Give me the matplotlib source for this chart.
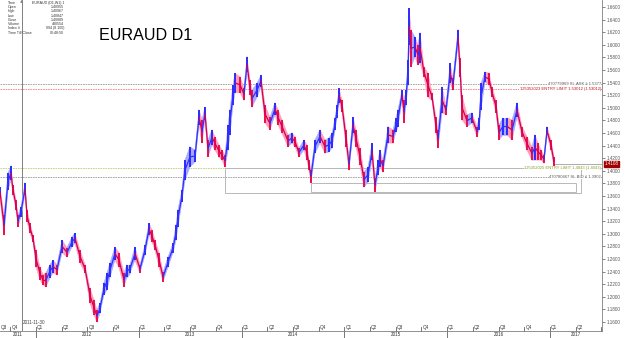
import matplotlib
matplotlib.use('Agg')
import matplotlib.pyplot as plt
import matplotlib.transforms as mtrans
from matplotlib.patches import Rectangle
from matplotlib.collections import PolyCollection, LineCollection
import numpy as np

plt.rcParams['font.family'] = ['Liberation Sans', 'DejaVu Sans']

# ---- price path (decimal year, high, low) ----
t = [2011.650, 2011.689, 2011.728, 2011.757, 2011.776, 2011.805, 2011.825, 2011.854, 2011.893, 2011.913,
     2011.942, 2011.971, 2012.000, 2012.039, 2012.068, 2012.097, 2012.136, 2012.165, 2012.204, 2012.253,
     2012.302, 2012.350, 2012.379, 2012.428, 2012.477, 2012.525, 2012.564, 2012.593, 2012.623, 2012.661,
     2012.691, 2012.720, 2012.768, 2012.807, 2012.856, 2012.885, 2012.914, 2012.963, 2013.012, 2013.060,
     2013.099, 2013.128, 2013.158, 2013.197, 2013.236, 2013.284, 2013.333, 2013.362, 2013.381, 2013.420,
     2013.449, 2013.498, 2013.547, 2013.586, 2013.615, 2013.644, 2013.673, 2013.712, 2013.741, 2013.780,
     2013.809, 2013.839, 2013.868, 2013.887, 2013.916, 2013.936, 2013.985, 2014.023, 2014.053, 2014.082,
     2014.101, 2014.150, 2014.189, 2014.228, 2014.276, 2014.325, 2014.354, 2014.393, 2014.451, 2014.490,
     2014.520, 2014.558, 2014.607, 2014.636, 2014.656, 2014.675, 2014.714, 2014.763, 2014.811, 2014.850,
     2014.880, 2014.909, 2014.928, 2014.948, 2014.977, 2015.016, 2015.045, 2015.084, 2015.113, 2015.152,
     2015.191, 2015.230, 2015.269, 2015.298, 2015.327, 2015.346, 2015.376, 2015.424, 2015.473, 2015.502,
     2015.522, 2015.560, 2015.580, 2015.599, 2015.619, 2015.629, 2015.648, 2015.687, 2015.716, 2015.736,
     2015.774, 2015.813, 2015.852, 2015.891, 2015.911, 2015.950, 2015.989, 2016.028, 2016.057, 2016.105,
     2016.125, 2016.144, 2016.193, 2016.241, 2016.290, 2016.310, 2016.329, 2016.368, 2016.407, 2016.436,
     2016.475, 2016.504, 2016.543, 2016.582, 2016.631, 2016.679, 2016.728, 2016.776, 2016.825, 2016.854,
     2016.883, 2016.913, 2016.942, 2016.971, 2017.010, 2017.039]
high = [1.374, 1.330, 1.397, 1.408, 1.378, 1.354, 1.330, 1.343, 1.381, 1.338,
        1.317, 1.298, 1.274, 1.247, 1.235, 1.238, 1.251, 1.258, 1.251, 1.290,
        1.278, 1.295, 1.301, 1.274, 1.251, 1.214, 1.195, 1.179, 1.190, 1.222,
        1.238, 1.254, 1.279, 1.270, 1.238, 1.251, 1.251, 1.279, 1.251, 1.282,
        1.317, 1.306, 1.290, 1.270, 1.239, 1.263, 1.285, 1.314, 1.338, 1.370,
        1.417, 1.438, 1.433, 1.497, 1.481, 1.501, 1.449, 1.465, 1.454, 1.441,
        1.433, 1.425, 1.473, 1.497, 1.536, 1.555, 1.549, 1.531, 1.581, 1.544,
        1.528, 1.539, 1.552, 1.504, 1.485, 1.508, 1.497, 1.481, 1.457, 1.460,
        1.454, 1.436, 1.449, 1.441, 1.417, 1.401, 1.449, 1.465, 1.449, 1.452,
        1.460, 1.484, 1.504, 1.531, 1.512, 1.465, 1.420, 1.485, 1.465, 1.436,
        1.398, 1.406, 1.444, 1.389, 1.417, 1.433, 1.417, 1.470, 1.465, 1.484,
        1.497, 1.528, 1.512, 1.528, 1.576, 1.658, 1.624, 1.612, 1.600, 1.619,
        1.565, 1.555, 1.524, 1.485, 1.465, 1.533, 1.504, 1.571, 1.547, 1.624,
        1.579, 1.520, 1.489, 1.492, 1.470, 1.484, 1.539, 1.557, 1.555, 1.533,
        1.512, 1.473, 1.484, 1.484, 1.481, 1.508, 1.470, 1.454, 1.438, 1.457,
        1.444, 1.433, 1.425, 1.470, 1.449, 1.422]
low = [1.358, 1.298, 1.370, 1.385, 1.362, 1.338, 1.311, 1.327, 1.362, 1.319,
       1.301, 1.287, 1.247, 1.227, 1.219, 1.216, 1.230, 1.238, 1.235, 1.270,
       1.263, 1.279, 1.285, 1.254, 1.238, 1.190, 1.171, 1.160, 1.174, 1.203,
       1.211, 1.231, 1.258, 1.247, 1.216, 1.231, 1.238, 1.258, 1.238, 1.266,
       1.298, 1.287, 1.274, 1.247, 1.224, 1.247, 1.270, 1.290, 1.311, 1.351,
       1.385, 1.406, 1.414, 1.473, 1.444, 1.481, 1.422, 1.441, 1.433, 1.422,
       1.417, 1.406, 1.433, 1.457, 1.504, 1.524, 1.524, 1.512, 1.557, 1.520,
       1.501, 1.517, 1.533, 1.476, 1.465, 1.489, 1.473, 1.460, 1.438, 1.444,
       1.438, 1.422, 1.433, 1.417, 1.401, 1.381, 1.428, 1.444, 1.428, 1.430,
       1.436, 1.465, 1.484, 1.508, 1.493, 1.438, 1.401, 1.460, 1.438, 1.409,
       1.374, 1.382, 1.417, 1.366, 1.393, 1.406, 1.398, 1.444, 1.444, 1.462,
       1.470, 1.512, 1.476, 1.504, 1.536, 1.600, 1.565, 1.581, 1.568, 1.571,
       1.549, 1.517, 1.512, 1.460, 1.436, 1.492, 1.489, 1.539, 1.528, 1.600,
       1.549, 1.481, 1.470, 1.476, 1.454, 1.465, 1.497, 1.541, 1.536, 1.517,
       1.492, 1.449, 1.457, 1.457, 1.449, 1.485, 1.454, 1.433, 1.417, 1.417,
       1.417, 1.417, 1.412, 1.457, 1.433, 1.406]

# ---- axis / annotation values ----
price_ticks = [1.16, 1.18, 1.20, 1.22, 1.24, 1.26, 1.28, 1.30, 1.32, 1.34, 1.36, 1.38, 1.40,
               1.42, 1.44, 1.46, 1.48, 1.50, 1.52, 1.54, 1.56, 1.58, 1.60, 1.62, 1.64, 1.66]
quarter_pos = [2011.75, 2012.0, 2012.25, 2012.5, 2012.75, 2013.0, 2013.25, 2013.5, 2013.75,
               2014.0, 2014.25, 2014.5, 2014.75, 2015.0, 2015.25, 2015.5, 2015.75,
               2016.0, 2016.25, 2016.5, 2016.75, 2017.0, 2017.25]
quarter_lab = ['Q4', 'Q1', 'Q2', 'Q3', 'Q4', 'Q1', 'Q2', 'Q3', 'Q4',
               'Q1', 'Q2', 'Q3', 'Q4', 'Q1', 'Q2', 'Q3', 'Q4',
               'Q1', 'Q2', 'Q3', 'Q4', 'Q1', 'Q2']
year_lab = ['2011', '2012', '2013', '2014', '2015', '2016', '2017']
year_start = [2011.0, 2012.0, 2013.0, 2014.0, 2015.0, 2016.0, 2017.0]

order_levels = [1.5377, 1.5301, 1.4043, 1.3902]
order_texts = ['470779969 SL.ASK \u2265 1.5377', '125352023 ENTRY LIMIT 1.53012 (1.53012)',
               '125352025 ENTRY LIMIT 1.4043 (1.4043)', '470780467 SL.BID \u2264 1.3902']
order_colors = ['#9a9a9a', '#f08080', '#b8d070', '#9a9a9a']
order_tcolors = ['#555555', '#c01010', '#80a020', '#555555']

last_price = 1.4108
cursor_t = 2011.859
cursor_label = '2011-11-30'

info_names = ['Time', 'Open', 'High', 'Low', 'Close', 'Volume', 'Index #', 'Time Till Close']
info_vals = ['EURAUD (D1,W1) 1', '1.40955', '1.40967', '1.40847', '1.40889', '480554', '994 (8 100)', '00:48:50']

# ---- figure ----
W, H = 625, 338
AXH = 331
fig = plt.figure(figsize=(W / 100, H / 100), dpi=100)
ax = fig.add_axes([0, (H - AXH) / H, 602 / W, AXH / H])
xmin, xmax = 2011.6498, 2017.506
ymax = 1.6711
ymin = ymax - AXH / 630.0
ax.set_xlim(xmin, xmax)
ax.set_ylim(ymin, ymax)

for s in ['top', 'left']:
    ax.spines[s].set_visible(False)
ax.spines['right'].set_color('#808080')
ax.spines['right'].set_linewidth(0.6)
ax.spines['bottom'].set_color('#808080')
ax.spines['bottom'].set_linewidth(0.6)

ax.set_xticks([])
ax.yaxis.tick_right()
ax.set_yticks(price_ticks)
ax.set_yticklabels(['%.4f' % v for v in price_ticks], fontsize=3.3, color='#333333')
ax.tick_params(axis='y', length=2, width=0.5, pad=1.5, colors='#555555')

# order lines
for lv, txt, c, tc in zip(order_levels, order_texts, order_colors, order_tcolors):
    ax.axhline(lv, color=c, lw=0.6, ls=(0, (2, 1)), zorder=1)
    ax.text(xmax - 0.01, lv, txt, fontsize=3.0, color=tc, ha='right', va='center', zorder=5,
            bbox=dict(facecolor='white', edgecolor='none', pad=0.2))

# rectangles
ax.add_patch(Rectangle((2013.839, 1.3647), 2017.302 - 2013.839, 1.4043 - 1.3647,
                       fill=False, edgecolor='#b8b8b8', lw=0.7, zorder=1))
ax.add_patch(Rectangle((2014.675, 1.3663), 2017.253 - 2014.675, 1.3806 - 1.3663,
                       fill=False, edgecolor='#b8b8b8', lw=0.7, zorder=1))

# price band
tt = np.array(t); hh = np.array(high); ll = np.array(low)
mid = (hh + ll) / 2
polys, pcols, segs, scols = [], [], [], []
for i in range(1, len(tt)):
    up = mid[i] >= mid[i - 1]
    polys.append([(tt[i - 1], ll[i - 1]), (tt[i - 1], hh[i - 1]), (tt[i], hh[i]), (tt[i], ll[i])])
    pcols.append('#a8a8ff' if up else '#ff9cb8')
for i in range(len(tt)):
    up = i == 0 or mid[i] >= mid[i - 1]
    segs.append([(tt[i], ll[i]), (tt[i], hh[i])])
    scols.append('#2020ff' if up else '#ee0040')
ax.add_collection(PolyCollection(polys, facecolors=pcols, edgecolors=pcols, linewidths=0.4, zorder=2))
ax.add_collection(LineCollection(segs, colors=scols, linewidths=1.3, zorder=3))
mseg = [[(tt[i - 1], mid[i - 1]), (tt[i], mid[i])] for i in range(1, len(tt))]
mcol = ['#3030ff' if mid[i] >= mid[i - 1] else '#d0005a' for i in range(1, len(tt))]
ax.add_collection(LineCollection(mseg, colors=mcol, linewidths=0.9, zorder=3))

# current price line and label
ax.plot([tt[-1], xmax], [last_price, last_price], color='#a0a0a0', lw=0.6, zorder=1)
ax.text(1.004, last_price, '%.4f' % last_price, transform=mtrans.blended_transform_factory(ax.transAxes, ax.transData),
        fontsize=3.3, color='white', ha='left', va='center', clip_on=False,
        bbox=dict(facecolor='#a00000', edgecolor='#a00000', pad=0.6))

# cursor line
ax.axvline(cursor_t, color='#808080', lw=0.7, zorder=1)
ax.annotate('', xy=(cursor_t, ymax), xytext=(cursor_t, ymax - 0.004),
            arrowprops=dict(arrowstyle='-|>', color='#808080', lw=0.5, mutation_scale=3))
bt = mtrans.blended_transform_factory(ax.transData, ax.transAxes)
ax.text(cursor_t + 0.01, 0.018, cursor_label, transform=bt, fontsize=3.3, color='#444444', ha='left', va='bottom')

# quarter / year axis
bf = mtrans.blended_transform_factory(ax.transData, fig.transFigure)
for q, lab in zip(quarter_pos, quarter_lab):
    is_year = abs(q - round(q)) < 1e-6
    if is_year:
        ax.plot([q, q], [(H - AXH + 4) / H, 0], transform=bf, color='#606060', lw=0.6, clip_on=False)
    else:
        ax.plot([q, q], [(H - AXH + 4) / H, (H - AXH) / H], transform=bf, color='#606060', lw=0.6, clip_on=False)
    ax.text(q + 0.01, (H - AXH + 0.5) / H, lab, transform=bf, fontsize=3.3, color='#333333', ha='left', va='bottom')
ax.text(xmin + 0.005, (H - AXH + 0.5) / H, 'Q3', transform=bf, fontsize=3.3, color='#333333', ha='left', va='bottom')
ax.plot([2017.50, 2017.50], [(H - AXH + 4) / H, (H - AXH) / H], transform=bf, color='#606060', lw=0.6, clip_on=False)
for ys, lab in zip(year_start, year_lab):
    a = max(ys, xmin); b = min(ys + 1, xmax)
    ax.text((a + b) / 2, 0.8 / H, lab, transform=bf, fontsize=3.3, color='#333333', ha='center', va='bottom',
            clip_on=False)

# title
ax.text(2012.613, 1.614, 'EURAUD D1', fontsize=11.6, color='black', ha='left', va='center')

# info panel
at = ax.transAxes
for k, (n, v) in enumerate(zip(info_names, info_vals)):
    yy = 0.991 - k * 0.0128
    ax.text(8 / 602, yy, n, transform=at, fontsize=2.6, color='#333333', ha='left', va='center')
    ax.text(64 / 602, yy, v, transform=at, fontsize=2.6, color='#333333', ha='right', va='center')

fig.savefig('out.png', dpi=100, facecolor='white')
